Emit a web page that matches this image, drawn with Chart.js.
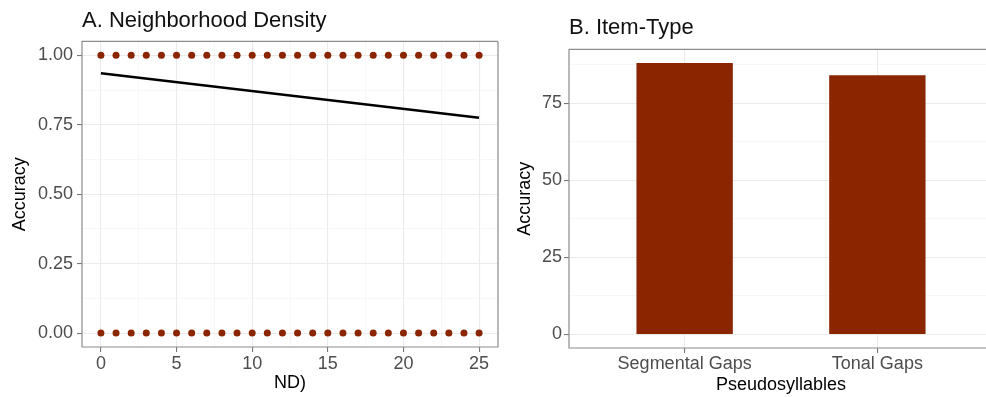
<!DOCTYPE html>
<html>
<head>
<meta charset="utf-8">
<script src="https://cdn.jsdelivr.net/npm/chart.js@4.4.1/dist/chart.umd.min.js"></script>
<style>
  html, body { margin: 0; padding: 0; background: #fff; overflow: hidden; width: 986px; height: 397px; }
  .panel { position: absolute; top: 0; height: 397px; overflow: hidden; }
  #ndPanel { left: 0; width: 502px; }
  #typePanel { left: 502px; width: 484px; }
</style>
</head>
<body>
<div class="panel" id="ndPanel"><canvas id="ndChart" width="502" height="397"></canvas></div>
<div class="panel" id="typePanel"><canvas id="typeChart" width="498" height="397"></canvas></div>
<script>
// A: every item at its neighbourhood density, scored right (1) or wrong (0)
var ndValues    = [0, 1, 2, 3, 4, 5, 6, 7, 8, 9, 10, 11, 12, 13, 14, 15, 16, 17, 18, 19, 20, 21, 22, 23, 24, 25];
var correctY    = [1, 1, 1, 1, 1, 1, 1, 1, 1, 1, 1, 1, 1, 1, 1, 1, 1, 1, 1, 1, 1, 1, 1, 1, 1, 1];
var incorrectY  = [0, 0, 0, 0, 0, 0, 0, 0, 0, 0, 0, 0, 0, 0, 0, 0, 0, 0, 0, 0, 0, 0, 0, 0, 0, 0];
// fitted line end points
var fitND       = [0, 25];
var fitAccuracy = [0.935, 0.775];
var ndTicks     = [0, 5, 10, 15, 20, 25];
var ndMinor     = [2.5, 7.5, 12.5, 17.5, 22.5];
var accTicks    = [0, 0.25, 0.5, 0.75, 1];
var accMinor    = [0.125, 0.375, 0.625, 0.875];

// B: mean accuracy per item type
var itemTypes    = ['Segmental Gaps', 'Tonal Gaps'];
var itemAccuracy = [88, 84];
var pctTicks     = [0, 25, 50, 75];
var pctMinor     = [12.5, 37.5, 62.5, 87.5];

var DOT = '#8B2500';
var TICK_TEXT = '#4D4D4D';

Chart.defaults.font.family = '"Liberation Sans", Arial, sans-serif';
Chart.defaults.animation = false;

function pts(xs, ys) {
    return xs.map(function (x, i) { return { x: x, y: ys[i] }; });
}

function setTicks(major, minor) {
    return function (scale) {
        scale.ticks = major.map(function (v) { return { value: v }; })
            .concat(minor.map(function (v) { return { value: v, minor: true }; }))
            .sort(function (a, b) { return a.value - b.value; });
    };
}

function gridStyle() {
    return {
        offset: false,
        color: function (c) { return c.tick && c.tick.minor ? '#F3F3F3' : '#EBEBEB'; },
        lineWidth: function (c) { return c.tick && c.tick.minor ? 0.7 : 1.1; },
        tickColor: function (c) { return c.tick && c.tick.minor ? 'rgba(0,0,0,0)' : '#777'; },
        tickLength: 5,
        drawOnChartArea: true
    };
}

// panel border, like theme_bw
var frame = {
    id: 'frame',
    afterDraw: function (chart) {
        var a = chart.chartArea, ctx = chart.ctx;
        ctx.save();
        ctx.strokeStyle = '#8c8c8c';
        ctx.lineWidth = 1.2;
        ctx.beginPath();
        ctx.moveTo(a.right, a.top);
        ctx.lineTo(a.left, a.top);
        ctx.lineTo(a.left, a.bottom);
        ctx.lineTo(a.right, a.bottom);
        ctx.lineTo(a.right, a.top);
        ctx.stroke();
        ctx.restore();
    }
};

new Chart(document.getElementById('ndChart'), {
    type: 'scatter',
    data: {
        datasets: [
            {
                label: 'fit',
                type: 'line',
                data: pts(fitND, fitAccuracy),
                borderColor: '#000',
                borderWidth: 2.5,
                pointRadius: 0,
                fill: false
            },
            {
                label: 'correct',
                data: pts(ndValues, correctY),
                backgroundColor: DOT,
                borderWidth: 0,
                pointRadius: 3.5
            },
            {
                label: 'incorrect',
                data: pts(ndValues, incorrectY),
                backgroundColor: DOT,
                borderWidth: 0,
                pointRadius: 3.5
            }
        ]
    },
    options: {
        responsive: false,
        layout: { padding: { left: 0, right: 3, top: 0, bottom: 0 } },
        plugins: {
            legend: { display: false },
            tooltip: { enabled: false },
            title: {
                display: true,
                text: 'A. Neighborhood Density',
                align: 'start',
                fullSize: false,
                color: '#111',
                font: { size: 22, weight: 'normal' },
                padding: { top: 8, bottom: 7 }
            }
        },
        scales: {
            x: {
                type: 'linear',
                min: -1.25,
                max: 26.25,
                afterBuildTicks: setTicks(ndTicks, ndMinor),
                afterFit: function (s) { s.height = 50; },
                grid: gridStyle(),
                border: { display: false },
                ticks: {
                    autoSkip: false,
                    maxRotation: 0,
                    padding: 1,
                    color: TICK_TEXT,
                    font: { size: 18 },
                    callback: function (v, i, t) { return t[i].minor ? '' : String(v); }
                },
                title: {
                    display: true,
                    text: 'ND)',
                    color: '#000',
                    font: { size: 18 },
                    padding: { top: 0, bottom: 3 }
                }
            },
            y: {
                min: -0.05,
                max: 1.05,
                afterBuildTicks: setTicks(accTicks, accMinor),
                afterFit: function (s) { s.width = 82; },
                grid: gridStyle(),
                border: { display: false },
                ticks: {
                    autoSkip: false,
                    padding: 4,
                    color: TICK_TEXT,
                    font: { size: 18 },
                    callback: function (v, i, t) { return t[i].minor ? '' : v.toFixed(2); }
                },
                title: {
                    display: true,
                    text: 'Accuracy',
                    color: '#000',
                    font: { size: 18 },
                    padding: { top: 9, bottom: 0 }
                }
            }
        }
    },
    plugins: [frame]
});

new Chart(document.getElementById('typeChart'), {
    type: 'bar',
    data: {
        datasets: [
            {
                label: 'Accuracy',
                data: itemAccuracy.map(function (v, i) { return { x: i + 1, y: v }; }),
                backgroundColor: DOT,
                borderWidth: 0,
                barPercentage: 0.5,
                categoryPercentage: 1
            }
        ]
    },
    options: {
        responsive: false,
        layout: { padding: { left: 0, right: 7, top: 0, bottom: 0 } },
        plugins: {
            legend: { display: false },
            tooltip: { enabled: false },
            title: {
                display: true,
                text: 'B. Item-Type',
                align: 'start',
                fullSize: false,
                color: '#111',
                font: { size: 22, weight: 'normal' },
                padding: { top: 15, bottom: 8 }
            }
        },
        scales: {
            x: {
                type: 'linear',
                min: 0.4,
                max: 2.6,
                offset: false,
                afterBuildTicks: function (s) {
                    s.ticks = itemTypes.map(function (t, i) { return { value: i + 1 }; });
                },
                afterFit: function (s) { s.height = 49; },
                grid: gridStyle(),
                border: { display: false },
                ticks: {
                    autoSkip: false,
                    maxRotation: 0,
                    padding: 0,
                    color: TICK_TEXT,
                    font: { size: 18 },
                    callback: function (v) { return itemTypes[v - 1]; }
                },
                title: {
                    display: true,
                    text: 'Pseudosyllables',
                    color: '#000',
                    font: { size: 18 },
                    padding: { top: 0, bottom: 1 }
                }
            },
            y: {
                min: -4.4,
                max: 92.4,
                afterBuildTicks: setTicks(pctTicks, pctMinor),
                afterFit: function (s) { s.width = 67; },
                grid: gridStyle(),
                border: { display: false },
                ticks: {
                    autoSkip: false,
                    padding: 2,
                    color: TICK_TEXT,
                    font: { size: 18 },
                    callback: function (v, i, t) { return t[i].minor ? '' : String(v); }
                },
                title: {
                    display: true,
                    text: 'Accuracy',
                    color: '#000',
                    font: { size: 18 },
                    padding: { top: 12, bottom: 0 }
                }
            }
        }
    },
    plugins: [frame]
});
</script>
</body>
</html>
